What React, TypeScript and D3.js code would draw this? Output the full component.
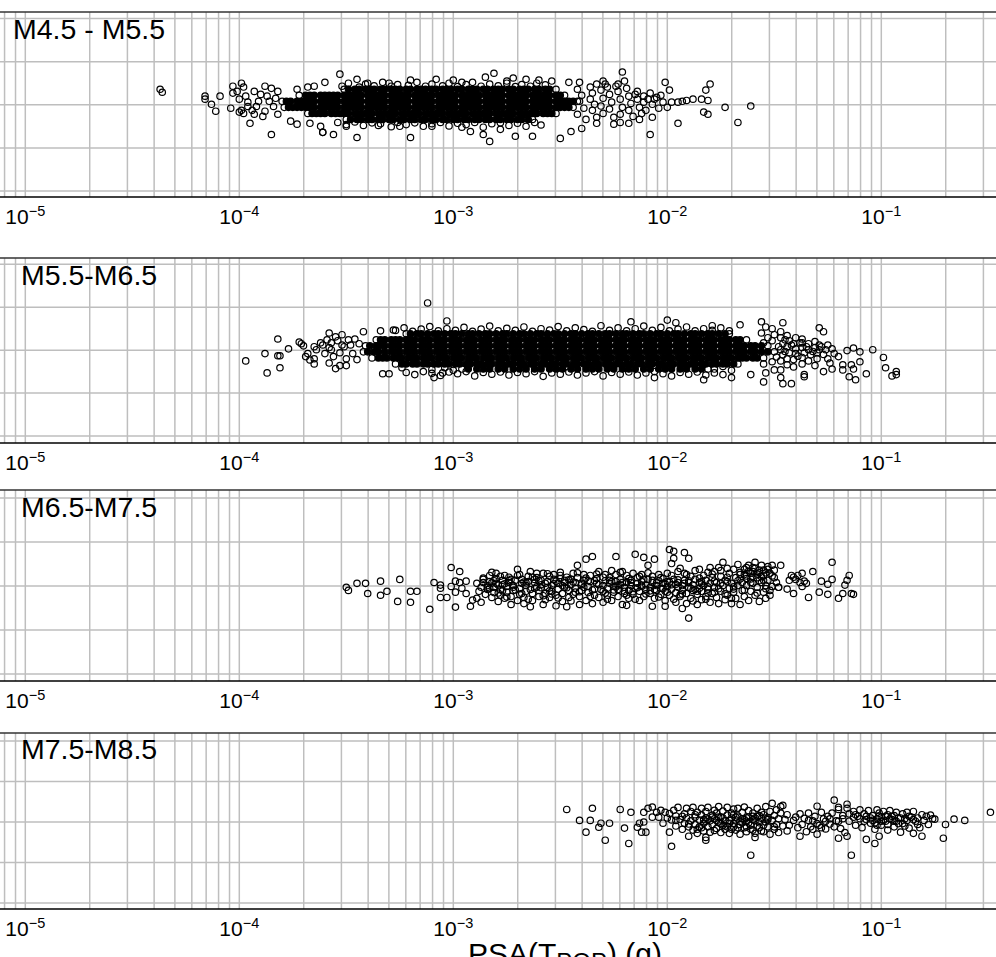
import { useEffect, useRef } from "react";
import * as d3 from "d3";

// x values are stored as -log10(PSA) * 100, y values as residual * 100.
// Single points can't be told apart inside the black bands, so the "core" rows
// there are estimates of the covered area, one list of x values per y level,
// and they are drawn filled because the original overplots to solid black.

const panelNames = ["M4.5 - M5.5", "M5.5-M6.5", "M6.5-M7.5", "M7.5-M8.5"];
const decades = [-5, -4, -3, -2, -1];
const minorMultipliers = [1, 2, 3, 4, 5, 6, 7, 8, 9];
const gridLevels = [-2, -1, 0, 1, 2];

const m45CoreY = [36, 22, 8, -6, -20, -34];
const m45CoreX = [
  [351, 349, 346, 344, 341, 339, 337, 334, 332, 329, 327, 325, 322, 320, 317, 315, 313, 310, 308, 305, 303, 301, 298, 296, 293, 291, 289, 286, 284, 281, 279, 277, 274, 272, 269, 267, 265, 262, 260, 257, 255, 252],
  [372, 369, 367, 365, 362, 360, 358, 356, 354, 351, 349, 347, 345, 343, 340, 338, 336, 334, 332, 329, 327, 325, 323, 321, 318, 316, 314, 312, 310, 307, 305, 303, 301, 299, 296, 294, 292, 290, 288, 285, 283, 281, 279, 277, 274, 272, 270, 268, 266, 263, 261, 259, 257, 255, 252, 250, 248],
  [380, 378, 376, 373, 371, 369, 367, 365, 362, 360, 358, 356, 354, 351, 349, 347, 345, 343, 340, 338, 336, 334, 332, 329, 327, 325, 323, 321, 318, 316, 314, 312, 310, 307, 305, 303, 301, 299, 296, 294, 292, 290, 288, 285, 283, 281, 279, 277, 274, 272, 270, 268, 266, 263, 261, 259, 257, 255, 252, 250, 248, 246, 244, 242],
  [379, 377, 375, 373, 371, 369, 367, 365, 362, 360, 358, 356, 354, 351, 349, 347, 345, 343, 340, 338, 336, 334, 332, 329, 327, 325, 323, 321, 318, 316, 314, 312, 310, 307, 305, 303, 301, 299, 296, 294, 292, 290, 288, 285, 283, 281, 279, 277, 274, 272, 270, 268, 266, 263, 261, 259, 257, 255, 252, 250, 248, 246, 244],
  [368, 366, 364, 362, 360, 357, 355, 353, 351, 349, 346, 344, 342, 340, 338, 335, 333, 331, 329, 327, 324, 322, 320, 318, 316, 313, 311, 309, 307, 305, 302, 300, 298, 296, 294, 291, 289, 287, 285, 283, 280, 278, 276, 274, 272, 269, 267, 265, 263, 261, 258, 256, 254, 252],
  [350, 348, 345, 343, 340, 338, 335, 333, 330, 328, 325, 323, 320, 318, 315, 313, 310, 308, 305, 303, 300, 298, 295, 293, 290, 288, 285, 283, 280, 278, 275, 273, 270, 268, 265, 263],
];
const m45Fringe = [
  352, 43, 349, 50, 344, 41, 341, 48, 337, 44, 333, 52, 329, 43, 326, 47, 321, 45, 317, 52, 313, 43, 310, 48, 305, 44, 302, 50, 298, 42, 294, 47, 291, 52, 287, 43, 283, 48, 279, 44, 275, 50, 271, 42, 268, 47, 264, 43, 261, 50, 257, 46,
  354, -41, 350, -46, 346, -40, 342, -48, 338, -42, 334, -44, 329, -51, 326, -41, 322, -46, 318, -42, 314, -50, 310, -44, 306, -41, 302, -49, 298, -43, 294, -46, 290, -41, 286, -52, 282, -44, 278, -42, 274, -48, 270, -43, 266, -50, 262, -41, 259, -47,
];
const m45Outliers = [
  437, 36, 436, 29, 416, 20, 416, 13, 409, 20, 413, 1, 411, -15, 404, -8, 403, 27, 403, 43, 399, 50, 398, 41, 401, 31, 400, 13, 400, -17, 396, -4, 397, 20, 393, 31, 388, 43, 385, 38, 395, -43, 385, -69, 389, -27, 393, -22, 392, -4, 387, 20, 382, 31, 390, 24, 384, -4, 382, -22, 376, -38, 373, -45, 361, -64, 362, -50, 367, -43, 360, 52, 365, 43, 373, 36, 368, 41, 398, -20, 399, -13, 396, 6, 394, -13, 391, 8, 388, -15, 386, 8, 383, 15,
  353, 71, 345, 59, 320, 57, 308, 59, 300, 57, 285, 64, 281, 73, 361, -64, 356, -69, 345, -76, 320, -76, 283, -85, 286, -69, 340, 50, 330, 50, 296, 52, 275, 55, 266, 59, 350, -50, 335, -48, 325, -50, 310, -50, 296, -52, 278, -57, 292, -62,
  221, 76, 201, 52, 199, 34, 180, 48, 182, 34, 188, 13, 191, 10, 193, 8, 195, 6, 198, 6, 184, 13, 181, 10, 173, -6, 161, -3, 167, -41, 195, -43, 208, -69, 207, -29, 183, -17, 181, -22, 213, -34, 218, -43, 222, -41, 225, -45, 233, -43, 240, -55, 245, -62, 250, -78, 263, -73, 271, -73, 241, 52, 246, 52, 230, 55, 233, 48, 223, 48, 220, 55, 214, 31, 203, 22, 211, 20, 260, 57, 254, 55, 272, 62,
  242, 36, 240, 22, 241, 8, 239, -8, 242, -22, 238, -34, 236, 41, 235, 27, 236, 13, 234, 1, 235, -13, 233, -29, 231, 34, 230, 15, 231, -3, 230, -20, 228, 41, 227, 24, 226, 6, 227, -10, 225, -29, 223, 31, 222, 13, 221, -6, 222, -22, 219, 38, 218, 20, 217, 3, 218, -13, 216, -27, 214, 13, 213, -6, 212, -20, 211, 6, 209, 13, 210, -13, 207, 1, 206, 13, 204, -8, 202, 6, 200, -6, 205, 17, 208, 27, 215, 24, 224, 43, 229, 48,
];

const m55CoreY = [38, 24, 10, -4, -18, -32, -44];
const m55CoreX = [
  [322, 320, 317, 315, 312, 309, 307, 304, 301, 299, 296, 293, 291, 288, 285, 283, 280, 277, 275, 272, 269, 267, 264, 261, 259, 256, 253, 251, 248, 245, 243, 240, 237, 235, 232, 229, 227, 224, 221, 219, 216, 213, 211, 208, 205, 203, 200, 197, 195, 192, 189, 187, 184, 181, 179, 176, 173, 171],
  [336, 334, 332, 329, 327, 325, 322, 320, 318, 315, 313, 311, 308, 306, 304, 301, 299, 297, 294, 292, 290, 287, 285, 283, 280, 278, 276, 273, 271, 269, 266, 264, 262, 259, 257, 255, 252, 250, 248, 245, 243, 241, 238, 236, 234, 231, 229, 227, 224, 222, 220, 217, 215, 213, 210, 208, 206, 203, 201, 199, 196, 194, 192, 189, 187, 185, 182, 180, 178, 175, 173, 171, 168, 166, 163],
  [341, 339, 336, 334, 332, 329, 327, 325, 322, 320, 318, 315, 313, 311, 308, 306, 304, 301, 299, 297, 294, 292, 290, 287, 285, 283, 280, 278, 276, 273, 271, 269, 266, 264, 262, 259, 257, 255, 252, 250, 248, 245, 243, 241, 238, 236, 234, 231, 229, 227, 224, 222, 220, 217, 215, 213, 210, 208, 206, 203, 201, 199, 196, 194, 192, 189, 187, 185, 182, 180, 178, 175, 173, 171, 168, 166, 164, 161, 159, 156, 153],
  [342, 340, 337, 335, 332, 329, 327, 325, 322, 320, 318, 315, 313, 311, 308, 306, 304, 301, 299, 297, 294, 292, 290, 287, 285, 283, 280, 278, 276, 273, 271, 269, 266, 264, 262, 259, 257, 255, 252, 250, 248, 245, 243, 241, 238, 236, 234, 231, 229, 227, 224, 222, 220, 217, 215, 213, 210, 208, 206, 203, 201, 199, 196, 194, 192, 189, 187, 185, 182, 180, 178, 175, 173, 171, 168, 166, 164, 161, 159, 156, 153, 150],
  [338, 335, 333, 331, 328, 326, 324, 321, 319, 317, 314, 312, 310, 307, 305, 303, 300, 298, 296, 293, 291, 289, 286, 284, 282, 279, 277, 275, 272, 270, 268, 265, 263, 261, 258, 256, 254, 251, 249, 247, 244, 242, 240, 237, 235, 233, 230, 228, 226, 223, 221, 219, 216, 214, 212, 209, 207, 205, 202, 200, 198, 195, 193, 191, 188, 186, 184, 181, 179, 177, 174, 172, 170, 167, 165, 163, 160, 158, 155],
  [327, 324, 322, 319, 317, 314, 312, 309, 307, 304, 302, 299, 297, 294, 292, 289, 287, 284, 282, 279, 277, 274, 272, 269, 267, 264, 262, 259, 257, 254, 252, 249, 247, 244, 242, 239, 237, 234, 232, 229, 227, 224, 222, 219, 217, 214, 212, 209, 207, 204, 202, 199, 197, 194, 192, 189, 187, 184, 182, 179, 177, 174, 172, 169, 167],
  [296, 293, 289, 286, 283, 279, 276, 272, 269, 266, 262, 259, 255, 252, 249, 245, 242, 238, 235, 232, 228, 225, 221, 218, 215, 211, 208, 204, 201, 198, 194, 191, 187, 184, 181],
];
const m55Fringe = [
  327, 46, 323, 52, 319, 44, 315, 49, 311, 55, 307, 45, 303, 50, 299, 46, 295, 53, 291, 44, 287, 49, 283, 56, 279, 45, 275, 51, 271, 46, 267, 54, 263, 44, 259, 50, 255, 47, 251, 55, 247, 45, 243, 52, 239, 48, 235, 44, 231, 57, 227, 46, 223, 52, 219, 45, 215, 50, 211, 56, 207, 46, 203, 53, 199, 45, 195, 49, 191, 54, 187, 45, 183, 50, 179, 46, 175, 52, 171, 45,
  322, -52, 318, -57, 314, -50, 310, -54, 306, -59, 302, -51, 298, -55, 294, -50, 290, -60, 286, -52, 282, -56, 278, -51, 274, -58, 270, -52, 266, -55, 262, -50, 258, -61, 254, -53, 250, -56, 246, -51, 242, -58, 238, -53, 234, -50, 230, -60, 226, -52, 222, -56, 218, -51, 214, -58, 210, -53, 206, -50, 202, -55, 198, -60, 194, -52, 190, -56, 186, -51, 182, -58, 178, -53, 174, -57, 310, -45, 304, -41, 300, -47, 178, -44, 174, -38, 170, -47,
];
const m55Outliers = [
  397, -25, 388, -8, 382, 26, 382, -13, 381, -13, 381, -41, 387, -53, 377, 3, 372, 19, 370, 10, 365, 8, 368, -8, 367, -23, 365, -32, 365, -20, 361, 12, 359, 24, 358, 40, 358, -30, 355, -43, 355, 31, 352, 36, 353, -36, 350, -36, 349, 24, 357, 1, 356, -15, 353, -6, 352, 12, 342, 43, 333, -55, 330, -55, 312, 110, 303, 68, 309, -64, 305, -53, 334, 45, 328, 47, 324, -41, 371, 15, 369, -15, 364, 1, 362, 17, 360, -8, 358, 6, 357, 17, 354, 22, 351, 8, 350, -20, 348, 12, 347, -8, 346, 26, 345, -22, 344, 15,
  200, 70, 196, 64, 217, 66, 206, -64, 183, -69, 179, 57, 166, 59, 156, 66, 154, 54, 146, 64, 151, 50, 129, 52, 127, 43, 155, -74, 146, -78, 142, -78, 154, -53, 147, -64, 161, -57, 170, -64, 136, -62, 129, 12, 137, 17, 125, 12, 123, 3, 116, -1, 113, 5, 110, -4, 104, 1, 99, -17, 98, -41, 93, -50, 95, -60, 93, -57, 107, -55, 112, -69, 115, -62, 113, -44, 114, -34, 110, -27, 118, -34, 118, -46, 123, -44, 124, -30, 120, -15, 127, -50, 131, -36, 136, -57, 147, -46, 150, -46, 141, -39,
  156, 40, 153, 29, 155, 17, 155, -32, 150, 36, 151, 22, 151, -27, 147, 43, 147, 29, 146, 15, 147, 1, 146, -11, 147, -25, 144, 34, 143, 22, 144, 8, 143, -6, 144, -20, 144, -34, 140, 29, 141, 15, 140, 3, 140, -8, 141, -22, 137, 26, 137, 6, 136, -6, 137, -17, 137, -32, 134, 15, 134, 1, 133, -11, 134, -25, 131, 20, 131, 6, 130, -6, 130, -20, 128, 8, 127, -10, 126, 1, 125, -20, 122, -8, 148, 8, 145, -3, 142, 12, 139, -14, 138, 17, 135, 8, 132, -3, 129, 1, 149, -16, 145, 24,
];

const m65Points = [
  350, -3, 349, -10, 345, 6, 341, 6, 340, -17, 334, 11, 334, -21, 331, -12, 325, 15, 326, -35, 320, -12, 317, -12, 320, -37, 311, -53, 309, 8, 306, 2, 306, -5, 306, -26, 303, -26, 301, 42, 297, 33, 299, -48, 299, 11, 301, -1, 297, 8, 294, 11, 299, -14, 296, -5, 294, -17, 289, 6, 292, -46, 291, -32, 287, -37, 289, -28,
  288, -12, 287, -3, 286, 8, 286, 15, 285, -19, 284, -8, 284, 1, 283, 10, 283, 24, 282, 31, 282, -26, 281, -15, 281, -3, 280, 6, 280, 17, 280, 29, 279, -35, 278, -21, 278, -8, 277, 3, 277, 13, 276, 24, 276, -28, 275, -14, 275, -1, 274, 8, 274, 20, 273, -42, 273, -24, 272, -10, 272, 1, 271, 13, 270, 38, 270, 24, 270, -33, 269, -19, 269, -6, 268, 6, 268, 15, 267, -40, 267, -26, 266, -12, 266, 1, 265, 10, 265, 22, 264, 33, 264, -47, 263, -33, 263, -17, 262, -5, 262, 8, 261, 19, 261, 29, 260, -24, 260, -10, 259, 3, 259, 13, 258, 29, 258, -42, 257, -31, 257, -17, 256, -3, 256, 10, 255, 22, 255, -26, 254, -12, 254, 1, 253, 15, 253, 26, 252, -45, 252, -21, 251, -7, 251, 6, 250, 17, 250, 31, 249, -35, 249, -17, 248, -3, 248, 8, 247, 20, 247, -47, 246, -26, 246, -10, 245, 3, 245, 15, 244, 29, 244, -19, 243, -5, 243, 8, 242, 47, 242, 19, 241, -42, 241, -24, 240, -10, 240, 3, 239, 13, 239, 26, 238, 61, 238, -33, 237, -15, 237, -1, 236, 10, 236, 24, 235, 67, 235, -40, 234, -21, 234, -7, 233, 6, 233, 17, 232, 33, 232, -26,
  230, -37, 230, -12, 230, 1, 229, 12, 229, 26, 228, -21, 228, -5, 227, 6, 227, 19, 226, 35, 226, -33, 225, -14, 225, -1, 224, 67, 224, 10, 224, 26, 223, -24, 223, -8, 222, 3, 222, 15, 221, 33, 221, -42, 220, -17, 220, -3, 219, -44, 219, 8, 219, 24, 218, -28, 218, -10, 217, 1, 217, 13, 216, 29, 216, -19, 215, 72, 215, -5, 214, 6, 214, 19, 213, -33, 213, -12, 212, -1, 212, 10, 212, 26, 211, 65, 211, -24, 210, -8, 210, 3, 209, 47, 209, 15, 208, -17, 208, -3, 207, -46, 207, 8, 207, 22, 206, 61, 206, -28, 205, -10, 205, 1, 204, 12, 204, 26, 203, -19, 203, -5, 202, 6, 202, 17, 201, -46, 201, -33, 201, -12, 200, -1, 200, 10, 200, 29, 199, 83, 199, -21, 198, 51, 198, -7, 198, 3, 197, 79, 197, 63, 197, 15, 196, -37, 196, -15, 195, -3, 195, 8, 195, 33, 194, 40, 194, -24, 193, -51, 193, -10, 193, 1, 192, 76, 192, 13, 192, 29, 191, -40, 191, -17, 190, 63, 190, -73, 190, -3, 190, 8, 189, 22, 189, -28, 188, -10, 188, 3, 187, 35, 187, 15, 186, -42, 186, -19, 185, -5, 185, 8, 185, 38, 184, -31, 184, -12, 183, 1, 183, 24, 182, 13, 182, -24, 181, -7, 181, 31, 180, 42, 180, -37, 180, 6,
  179, -17, 179, 19, 178, 33, 178, -3, 177, -26, 177, 8, 176, 42, 176, -40, 175, -12, 175, 22, 174, 54, 174, 1, 173, -31, 173, 13, 172, 40, 172, -21, 171, -5, 171, 29, 170, 6, 170, -40, 169, -14, 169, 38, 168, 19, 168, -28, 167, 1, 167, 49, 166, -42, 166, 26, 165, -10, 165, 8, 164, 38, 164, -24, 163, 17, 163, 1, 162, 47, 162, -33, 161, 29, 161, -12, 160, 6, 160, 42, 159, 54, 159, -21, 158, 19, 158, -3, 157, 36, 157, -35, 156, 8, 156, 47, 155, -14, 155, 24, 154, -28, 154, 1, 153, 38, 153, 13, 152, -21, 152, 29, 151, -1, 151, 47, 150, 19, 150, 36, 149, 8, 148, -3, 147, 47, 152, -10,
  141, -17, 134, -26, 132, 33, 123, 54, 123, 15, 115, 24, 116, 13, 117, 2, 125, 4, 128, 11, 129, -14, 125, -19, 120, -28, 118, -17, 114, -17, 113, -19, 136, 11, 137, 29, 139, 24, 142, 24, 143, 13, 138, 8, 137, -1, 141, 20, 144, -7, 148, -3, 151, -1, 140, 15, 135, 6,
];
const m65Extra = [
  286, 18, 283, -5, 281, 12, 279, -16, 278, 22, 276, 5, 275, -25, 273, 15, 271, -9, 269, 26, 268, -17, 266, 7, 265, -30, 263, 20, 261, -2, 260, 12, 258, -22, 256, 28, 255, -11, 253, 5, 251, -27, 250, 24, 248, 13, 247, -4, 245, -34, 244, 9, 242, 30, 241, -13, 239, -3, 238, 18, 236, -24, 234, 12, 233, 27, 231, -8, 230, 20, 228, -30, 227, 13, 225, -9, 224, -2, 222, 31, 221, 8, 219, -21, 218, 17, 216, -13, 215, -30, 213, 22, 212, 2, 210, -18, 209, 30, 207, 13, 206, -8, 204, -25, 203, 19, 201, 5, 200, -14, 198, 24, 197, -30, 195, 14, 194, -20, 192, 6, 191, 26, 189, -5, 188, -34, 186, -12, 185, 18, 184, 5, 182, -30, 181, -16, 179, 27, 178, 11, 176, -6, 175, 35, 173, -18, 172, 20, 170, -28, 169, -2, 167, 12, 166, 31, 164, -9, 163, 42, 161, 8, 160, 22, 158, -16, 157, 30, 155, 13, 154, -6, 153, 44,
  284, -3, 282, 7, 279, 2, 277, -11, 274, 12, 272, -3, 267, 9, 264, -8, 262, 15, 259, -4, 257, 6, 254, -18, 252, 11, 249, 1, 246, 14, 243, -14, 240, 6, 237, 12, 235, -9, 232, 3, 229, -16, 226, 10, 223, 2, 220, -12, 217, 8, 214, -4, 211, 15, 208, -11, 205, 7, 202, -6, 199, 9, 196, 4, 193, -18, 190, 12, 187, -8, 184, 10, 181, -2, 178, -14, 175, 6, 172, 10, 169, -7, 166, 16, 163, 23, 160, 33, 157, 12, 154, 30, 151, 23, 158, 27, 156, 21, 162, 34, 155, 36, 159, 40, 161, 16, 164, 26,
];

const m75Points = [
  247, 31, 235, 34, 241, 4, 236, 4, 238, -25, 232, -13, 231, -3, 227, -3, 229, -45, 222, 31, 217, 24, 220, -15, 218, -53, 214, -13, 213, -3, 211, 0, 212, -25, 210, -25, 211, 24, 209, 34, 207, 37, 205, 24, 207, 12, 204, 12, 202, -3, 201, 24, 199, 21, 199, -25, 198, -60, 190, -35, 182, -38, 182, -45, 161, -82, 159, -38,
  203, 29, 200, 10, 198, 5, 197, 29, 196, 15, 196, -10, 195, 36, 194, 6, 193, -18, 192, 20, 192, -3, 191, 34, 191, 10, 190, -12, 189, 26, 189, 3, 188, 36, 188, -20, 187, 12, 187, -6, 186, 24, 186, -28, 185, 5, 185, -12, 184, 17, 184, 34, 183, -3, 183, -22, 182, 10, 182, 26, 181, -12, 181, 36, 180, 3, 180, -25, 179, 17, 179, -6, 178, 29, 178, 8, 177, -16, 177, 22, 176, 0, 176, 38, 175, -26, 175, 12, 174, -8, 174, 27, 173, 3, 173, -18, 172, 17, 172, 36, 171, -3, 171, -28, 170, 10, 170, 22, 169, -12, 169, 32, 168, 5, 168, -20, 167, 15, 167, 34, 166, -6, 166, -30, 165, 8, 165, 24, 164, -14, 164, 37, 163, 2, 163, -24, 162, 12, 162, 28, 161, -8, 160, 6, 160, 22, 160, -20, 159, -28, 158, 14, 158, 34, 157, -2, 157, -14, 156, 9, 156, 24, 155, -24, 155, 18, 154, 0, 154, 38, 153, -12, 153, 10, 152, 26, 152, -30, 151, 46, 151, 4, 150, -18, 150, 16, 149, 30, 149, -6, 148, 8, 148, -26, 147, 22, 147, 38, 146, 41, 146, -10, 145, 6, 144, -22, 144, 18,
  143, -8, 141, 4, 140, 12, 139, -14, 138, -35, 138, 20, 137, -6, 136, 9, 135, -24, 134, 22, 133, -12, 132, 3, 131, 14, 130, 39, 130, -30, 129, -8, 128, 24, 127, 8, 126, -17, 125, 14, 124, -5, 123, 22, 122, 54, 121, 3, 120, 36, 120, 31, 120, -40, 119, -16, 118, 8, 117, -26, 116, 44, 116, 34, 116, -35, 115, 2, 114, -82, 113, 26, 112, -8, 111, 14, 110, 30, 109, -14, 108, 20, 107, -43, 107, 6, 106, 28, 105, -3, 104, 16, 103, -53, 103, -18, 102, 30, 102, 8, 101, -35, 101, 22, 100, -8, 100, 12, 99, 26, 98, 2, 97, -20, 97, 18, 96, 28, 95, 6, 94, -12, 94, 16, 93, 24, 92, -4, 91, -25, 91, 10, 90, 20, 89, -10, 88, 24, 88, 4, 87, -15, 86, 12, 85, 26, 85, -28, 84, 2, 83, 10, 82, -14, 81, -35, 81, 18, 80, 4, 79, 14, 78, -6, 77, 17, 76, 8, 75, 7, 71, -40, 70, -6, 66, 7, 61, 4, 49, 24,
];
const m75Extra = [
  196, 4, 193, 14, 190, -5, 187, 18, 184, -14, 181, 7, 178, -21, 176, 12, 173, -10, 171, 4, 169, 18, 167, -14, 165, -2, 163, 10, 161, -18, 159, 3, 157, 16, 155, -8, 153, 6, 150, -12, 182, 2, 179, 12, 175, -4, 172, -12, 170, -18, 168, 12, 164, 6, 162, -2, 160, 14, 158, -10, 156, -22, 154, 10, 186, -18, 183, 6, 177, 4, 174, 10, 166, 2, 169, -4, 163, -12, 159, 10,
  108, 2, 105, 10, 103, -2, 101, 14, 99, 4, 97, -6, 95, 14, 93, 2, 90, -4, 112, 18, 110, 8, 107, 14, 104, 4, 102, -8, 100, 2, 98, 14, 96, 8, 94, 2, 92, 10, 113, 12, 115, 20, 118, 16, 126, 2, 128, -14, 124, 8, 130, -4, 134, 4, 132, -18, 120, 2, 122, -12, 89, 8, 87, 14, 85, 6, 83, -6,
];

const allPanels = [
  { coreY: m45CoreY, coreX: m45CoreX, flat: [...m45Outliers, ...m45Fringe], top: 12, bottom: 197, gridLow: 191, gridHigh: 18.5, titleX: 13, titleY: 39 },
  { coreY: m55CoreY, coreX: m55CoreX, flat: [...m55Outliers, ...m55Fringe], top: 258, bottom: 443, gridLow: 436, gridHigh: 264.3, titleX: 21, titleY: 285 },
  { coreY: [], coreX: [], flat: [...m65Points, ...m65Extra], top: 490, bottom: 681, gridLow: 674, gridHigh: 498, titleX: 21, titleY: 517 },
  { coreY: [], coreX: [], flat: [...m75Points, ...m75Extra], top: 733, bottom: 909, gridLow: 903, gridHigh: 741, titleX: 21, titleY: 759 },
];

const width = 996;
const height = 957;
const fontFamily = "'Liberation Sans', Arial, sans-serif";

export default function App() {
  const ref = useRef<SVGSVGElement>(null);

  useEffect(() => {
    const svg = d3.select(ref.current);
    svg.selectAll("*").remove();

    const x = d3.scaleLog().domain([1e-5, 1e-1]).range([25.3, 881.3]);

    // grid lines for every multiplier of every decade, clipped by the page edge
    const minorTicks: number[] = [];
    for (let e = -6; e <= 0; e++) {
      minorMultipliers.forEach((m) => minorTicks.push(m * 10 ** e));
    }

    allPanels.forEach((panel, i) => {
      const y = d3.scaleLinear().domain([-2, 2]).range([panel.gridLow, panel.gridHigh]);
      const g = svg.append("g");

      g.selectAll("line.v")
        .data(minorTicks.filter((t) => x(t) >= 0 && x(t) <= width))
        .join("line")
        .attr("class", "v")
        .attr("x1", (t) => x(t))
        .attr("x2", (t) => x(t))
        .attr("y1", panel.top)
        .attr("y2", panel.bottom)
        .attr("stroke", "#bebebe")
        .attr("stroke-width", 1.5);

      g.selectAll("line.h")
        .data(gridLevels)
        .join("line")
        .attr("class", "h")
        .attr("x1", 0)
        .attr("x2", width)
        .attr("y1", (d) => y(d))
        .attr("y2", (d) => y(d))
        .attr("stroke", "#bebebe")
        .attr("stroke-width", 1.5);

      g.append("line")
        .attr("x1", 0)
        .attr("x2", width)
        .attr("y1", panel.top)
        .attr("y2", panel.top)
        .attr("stroke", "#333333")
        .attr("stroke-width", 1.5);
      g.append("line")
        .attr("x1", 0)
        .attr("x2", width)
        .attr("y1", panel.bottom)
        .attr("y2", panel.bottom)
        .attr("stroke", "#000000")
        .attr("stroke-width", 1.5);

      // points: sparse ones come in e,y pairs, core ones per y level
      const points: { e: number; v: number; solid: boolean }[] = [];
      for (let k = 0; k < panel.flat.length; k += 2) {
        points.push({ e: panel.flat[k], v: panel.flat[k + 1], solid: false });
      }
      panel.coreY.forEach((level, r) => {
        const row = panel.coreX[r];
        row.forEach((e, c) => {
          points.push({ e, v: level, solid: c > 0 && c < row.length - 1 });
        });
      });

      g.selectAll("circle")
        .data(points)
        .join("circle")
        .attr("cx", (d) => x(10 ** (-d.e / 100)))
        .attr("cy", (d) => y(d.v / 100))
        .attr("r", 3.2)
        .attr("fill", (d) => (d.solid ? "#000" : "none"))
        .attr("stroke", "#000")
        .attr("stroke-width", 1.2);

      const labels = g
        .selectAll("text.tick")
        .data(decades)
        .join("text")
        .attr("class", "tick")
        .attr("x", (d) => x(10 ** d))
        .attr("y", panel.bottom + 27)
        .attr("text-anchor", "middle")
        .attr("font-family", fontFamily)
        .attr("font-size", 21)
        .attr("fill", "#000");
      labels.append("tspan").text("10");
      labels
        .append("tspan")
        .attr("dy", -8)
        .attr("font-size", 14.5)
        .text((d) => `\u2212${Math.abs(d)}`);

      g.append("text")
        .attr("x", panel.titleX)
        .attr("y", panel.titleY)
        .attr("font-family", fontFamily)
        .attr("font-size", 28.5)
        .attr("fill", "#000")
        .text(panelNames[i]);
    });

    const title = svg
      .append("text")
      .attr("x", 468)
      .attr("y", 964)
      .attr("font-family", fontFamily)
      .attr("font-size", 30)
      .attr("fill", "#000");
    title.append("tspan").text("PSA(T");
    title.append("tspan").attr("dy", 6).attr("font-size", 24).text("POP");
    title.append("tspan").attr("dy", -6).text(") (g)");
  }, []);

  return (
    <svg
      ref={ref}
      width={width}
      height={height}
      style={{ position: "absolute", left: 0, top: 0, background: "#fff" }}
    />
  );
}
